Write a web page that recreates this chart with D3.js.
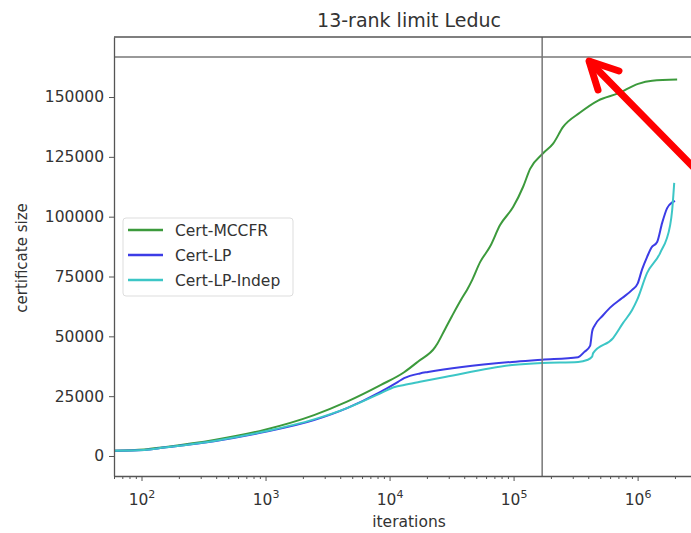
<!DOCTYPE html>
<html>
<head>
<meta charset="utf-8">
<script src="https://cdn.jsdelivr.net/npm/d3@7"></script>
<style>
  body { margin: 0; background: #fff; }
  text { font-family: "DejaVu Sans", sans-serif; fill: #333; }
</style>
</head>
<body>
<div id="chart"></div>
<script>
// series: [iterations, certificate size]
var mccfr = [
  [60, 2200], [105, 2700], [152, 3700], [385, 6700], [973, 10900], [2460, 17100],
  [4540, 22700], [8530, 29700], [13100, 35000], [17000, 39500], [23300, 45500],
  [24200, 46800], [28000, 53000], [31900, 58500], [38400, 66000],
  [42200, 69500], [46300, 73500], [53700, 81000], [64600, 87500], [77800, 96500],
  [99100, 104000], [119400, 112500], [135900, 120000], [173000, 126500],
  [208300, 130500], [250800, 137500], [343700, 143500], [480000, 148500],
  [696400, 151500], [1009000, 155500], [1310000, 156800], [2083000, 157300]
];
var certLP = [
  [60, 2200], [105, 2500], [152, 3500], [385, 6200], [973, 10000], [2460, 15000],
  [4540, 20000], [8530, 26900], [11700, 31000], [13100, 32500], [17600, 34500], [20400, 35100],
  [38400, 37200], [97200, 39300], [169800, 40200], [331400, 41300], [372000, 43500],
  [413800, 46000], [430000, 52000], [450000, 54500], [520000, 58500], [600000, 62000],
  [750000, 66000], [903000, 69400], [1000000, 72000], [1087000, 78000],
  [1193000, 83200], [1290000, 87000], [1437000, 89400], [1577000, 97400],
  [1730000, 103600], [1900000, 106000], [2006000, 106500]
];
var certLPIndep = [
  [60, 2200], [105, 2500], [152, 3500], [385, 6300], [973, 10200], [2460, 15300],
  [4540, 20000], [8530, 26300], [11000, 28800], [13100, 29700], [17600, 31000],
  [28000, 33000], [97200, 38000], [169800, 38900],
  [331400, 39300], [391400, 40100], [429700, 41500], [437800, 43000], [634400, 49300],
  [764000, 55600], [903000, 61000], [991000, 65200], [1193000, 76500],
  [1518000, 84800], [1830000, 96500], [1900000, 102800], [1973000, 114100]
];

var seriesNames = ["Cert-MCCFR", "Cert-LP", "Cert-LP-Indep"];
var seriesColors = ["#3c9a3c", "#3c3ce6", "#3cc6c6"];
var yTicks = [0, 25000, 50000, 75000, 100000, 125000, 150000];
var xTicks = [1e2, 1e3, 1e4, 1e5, 1e6];
var xDomain = [60, 3.43e6];
var yDomain = [-8360, 175080];
var hLineValue = 166700;   // horizontal reference line
var vLineValue = 170000;   // vertical reference line

var W = 691, H = 533;
var margin = {top: 37, left: 114},
    plotRight = 704, plotBottom = 476;

var svg = d3.select("#chart").append("svg")
  .attr("width", W)
  .attr("height", H);

var x = d3.scaleLog().domain(xDomain).range([margin.left, plotRight]);
var y = d3.scaleLinear().domain(yDomain).range([plotBottom, margin.top]);

svg.append("defs").append("clipPath").attr("id", "clip")
  .append("rect")
    .attr("x", margin.left).attr("y", margin.top)
    .attr("width", plotRight - margin.left).attr("height", plotBottom - margin.top);

// title
svg.append("text")
  .attr("x", (margin.left + plotRight) / 2)
  .attr("y", 27)
  .attr("text-anchor", "middle")
  .attr("font-size", "19px")
  .text("13-rank limit Leduc");

// lines
var line = d3.line()
  .curve(d3.curveMonotoneX)
  .x(function(d) { return x(d[0]); })
  .y(function(d) { return y(d[1]); });

var plot = svg.append("g").attr("clip-path", "url(#clip)");
[mccfr, certLP, certLPIndep].forEach(function(s, i) {
  plot.append("path")
    .datum(s)
    .attr("d", line)
    .attr("fill", "none")
    .attr("stroke", seriesColors[i])
    .attr("stroke-width", 2)
    .attr("stroke-linejoin", "round");
});

// reference lines
plot.append("line")
  .attr("x1", margin.left).attr("x2", plotRight)
  .attr("y1", y(hLineValue)).attr("y2", y(hLineValue))
  .attr("stroke", "#777").attr("stroke-width", 1.5);
plot.append("line")
  .attr("x1", x(vLineValue)).attr("x2", x(vLineValue))
  .attr("y1", margin.top).attr("y2", plotBottom)
  .attr("stroke", "#777").attr("stroke-width", 1.5);

// x axis: minor ticks
var minor = [];
for (var e = 1; e <= 6; e++) {
  for (var m = 2; m <= 9; m++) {
    var v = m * Math.pow(10, e);
    if (v >= xDomain[0] && v <= xDomain[1]) minor.push(v);
  }
}
svg.append("g")
  .attr("transform", "translate(0," + plotBottom + ")")
  .call(d3.axisBottom(x).tickValues(minor).tickSize(3).tickSizeOuter(0).tickFormat(""))
  .call(function(g) { g.select(".domain").remove(); g.selectAll("line").attr("stroke", "#555"); });

// x axis: major ticks
var xAxis = svg.append("g")
  .attr("transform", "translate(0," + plotBottom + ")")
  .call(d3.axisBottom(x).tickValues(xTicks).tickSize(5).tickSizeOuter(0).tickFormat(""));
xAxis.select(".domain").attr("stroke", "#555").attr("stroke-width", 1.3);
xAxis.selectAll("line").attr("stroke", "#555");
xAxis.selectAll(".tick").append("text")
  .attr("y", 29)
  .attr("text-anchor", "middle")
  .attr("font-size", "15.5px")
  .each(function(d) {
    var t = d3.select(this);
    t.append("tspan").text("10");
    t.append("tspan").attr("dy", -7).attr("font-size", "11px").text(Math.round(Math.log10(d)));
  });

// y axis
var yAxis = svg.append("g")
  .attr("transform", "translate(" + margin.left + ",0)")
  .call(d3.axisLeft(y).tickValues(yTicks).tickSize(5).tickSizeOuter(0).tickPadding(5).tickFormat(d3.format("d")));
yAxis.select(".domain").attr("stroke", "#555").attr("stroke-width", 1.3);
yAxis.selectAll("line").attr("stroke", "#555");
yAxis.selectAll("text").attr("font-size", "15.5px").attr("font-family", "DejaVu Sans").attr("fill", "#333");

// top spine
svg.append("line")
  .attr("x1", margin.left).attr("x2", plotRight)
  .attr("y1", margin.top).attr("y2", margin.top)
  .attr("stroke", "#555").attr("stroke-width", 1.3);

// axis labels
svg.append("text")
  .attr("x", (margin.left + plotRight) / 2)
  .attr("y", 527)
  .attr("text-anchor", "middle")
  .attr("font-size", "15.5px")
  .text("iterations");
svg.append("text")
  .attr("transform", "translate(27,258) rotate(-90)")
  .attr("text-anchor", "middle")
  .attr("font-size", "15px")
  .text("certificate size");

// legend
var legend = svg.append("g").attr("transform", "translate(123,218)");
legend.append("rect")
  .attr("width", 170).attr("height", 78)
  .attr("rx", 3)
  .attr("fill", "#fff").attr("fill-opacity", 0.8)
  .attr("stroke", "#ddd");
seriesNames.forEach(function(name, i) {
  var ly = 12 + i * 25;
  legend.append("line")
    .attr("x1", 5).attr("x2", 40)
    .attr("y1", ly).attr("y2", ly)
    .attr("stroke", seriesColors[i]).attr("stroke-width", 2.5);
  legend.append("text")
    .attr("x", 52).attr("y", ly + 5.5)
    .attr("font-size", "15.5px")
    .text(name);
});

// red annotation arrow
var arrow = svg.append("g")
  .attr("stroke", "#ff0000").attr("stroke-width", 7)
  .attr("stroke-linecap", "round").attr("stroke-linejoin", "round").attr("fill", "none");
arrow.append("path").attr("d", "M700,174 L590,62");
arrow.append("path").attr("d", "M619,71 L589,61 L598,90");
</script>
</body>
</html>
